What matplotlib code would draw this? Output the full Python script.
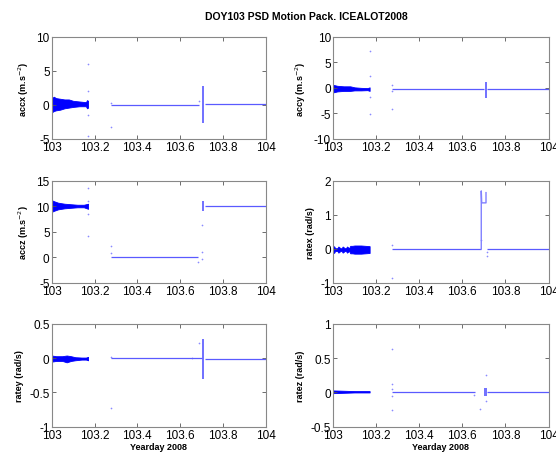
import numpy as np
import matplotlib
matplotlib.use('Agg')
import matplotlib.pyplot as plt

plt.rcParams['font.family'] = ['Liberation Sans', 'DejaVu Sans']

title = 'DOY103 PSD Motion Pack. ICEALOT2008'
xlabel = 'Yearday 2008'
xticks = [103, 103.2, 103.4, 103.6, 103.8, 104]

# ---- accx ----
accx_bt = [103.0, 103.01, 103.02, 103.04, 103.06, 103.08, 103.10, 103.13, 103.16, 103.165, 103.17]
accx_hi = [1.0, 1.2, 1.0, 0.9, 0.8, 0.8, 0.6, 0.5, 0.4, 0.7, 0.6]
accx_lo = [-1.1, -0.9, -0.8, -0.7, -0.5, -0.4, -0.3, -0.2, -0.2, -0.5, -0.4]
accx_base = [(103.275, 103.69, 0.05), (103.715, 104.0, 0.15)]
accx_spike = (103.703, 103.713, -2.6, 2.7)
accx_out_t = [103.17, 103.17, 103.17, 103.17, 103.275, 103.275, 103.69]
accx_out_y = [6.0, 2.0, -1.5, -4.5, -3.2, 0.3, 0.5]

# ---- accy ----
accy_bt = [103.0, 103.02, 103.05, 103.08, 103.10, 103.13, 103.16, 103.17]
accy_hi = [0.6, 0.4, 0.3, 0.3, 0.1, 0.0, -0.05, 0.1]
accy_lo = [-0.9, -0.7, -0.6, -0.6, -0.5, -0.5, -0.45, -0.6]
accy_base = [(103.275, 103.70, -0.2), (103.715, 104.0, -0.3)]
accy_spike = (103.704, 103.713, -1.9, 1.2)
accy_out_t = [103.17, 103.17, 103.17, 103.17, 103.275, 103.275, 103.275]
accy_out_y = [7.2, 2.3, -1.8, -5.2, 0.5, -0.7, -4.2]

# ---- accz ----
accz_bt = [103.0, 103.01, 103.03, 103.06, 103.09, 103.12, 103.15, 103.17]
accz_hi = [11.2, 11.0, 10.7, 10.5, 10.4, 10.3, 10.3, 10.5]
accz_lo = [8.9, 9.1, 9.4, 9.6, 9.7, 9.8, 9.8, 9.5]
accz_base = [(103.275, 103.685, 0.0), (103.715, 104.0, 10.0)]
accz_spike = (103.703, 103.713, 9.0, 11.1)
accz_out_t = [103.17, 103.17, 103.17, 103.17, 103.275, 103.275, 103.685, 103.70, 103.70, 103.70]
accz_out_y = [13.5, 11.0, 8.5, 4.2, 2.3, 0.8, -0.8, 6.3, 1.1, -0.4]

# ---- ratex ----
ratex_bt = [103.0, 103.005, 103.01, 103.02, 103.025, 103.035, 103.04, 103.045, 103.055, 103.06, 103.065,
            103.075, 103.08, 103.09, 103.10, 103.13, 103.15, 103.17]
ratex_hi = [0.02, 0.08, 0.02, 0.02, 0.07, 0.02, 0.02, 0.07, 0.02, 0.02, 0.07,
            0.02, 0.09, 0.09, 0.1, 0.1, 0.09, 0.08]
ratex_lo = [-0.06, -0.12, -0.06, -0.06, -0.11, -0.06, -0.06, -0.11, -0.06, -0.06, -0.11,
            -0.06, -0.13, -0.13, -0.14, -0.14, -0.13, -0.12]
ratex_base = [(103.275, 103.685, 0.0), (103.715, 104.0, 0.0)]
ratex_jump_t = [103.688, 103.688, 103.69, 103.71, 103.71]
ratex_jump_y = [0.0, 1.7, 1.35, 1.35, 1.65]
ratex_out_t = [103.275, 103.275, 103.685, 103.713, 103.713]
ratex_out_y = [-0.85, 0.1, 0.25, -0.2, -0.1]

# ---- ratey ----
ratey_bt = [103.0, 103.02, 103.05, 103.07, 103.09, 103.11, 103.14, 103.16, 103.17]
ratey_hi = [0.04, 0.03, 0.03, 0.04, 0.03, 0.015, 0.01, 0.01, 0.02]
ratey_lo = [-0.05, -0.04, -0.04, -0.06, -0.04, -0.03, -0.02, -0.02, -0.03]
ratey_base = [(103.275, 103.70, 0.0), (103.715, 104.0, -0.005)]
ratey_spike = (103.704, 103.714, -0.3, 0.28)
ratey_out_t = [103.275, 103.275, 103.69, 103.655]
ratey_out_y = [-0.72, 0.02, 0.22, 0.01]

# ---- ratez ----
ratez_bt = [103.0, 103.05, 103.10, 103.17]
ratez_hi = [0.03, 0.025, 0.02, 0.02]
ratez_lo = [-0.01, -0.005, -0.0, -0.0]
ratez_base = [(103.275, 103.66, 0.0), (103.715, 104.0, 0.01)]
ratez_spike = (103.703, 103.713, -0.05, 0.06)
ratez_out_t = [103.275, 103.275, 103.275, 103.275, 103.275, 103.655, 103.68, 103.71, 103.71]
ratez_out_y = [0.64, 0.13, -0.26, 0.05, -0.05, -0.03, -0.24, 0.26, -0.13]

panels = [
    ('accx (m.s$^{-2}$)', accx_bt, accx_hi, accx_lo, accx_base, accx_spike, accx_out_t, accx_out_y,
     (-5, 10), [-5, 0, 5, 10], ['-5', '0', '5', '10']),
    ('accy (m.s$^{-2}$)', accy_bt, accy_hi, accy_lo, accy_base, accy_spike, accy_out_t, accy_out_y,
     (-10, 10), [-10, -5, 0, 5, 10], ['-10', '-5', '0', '5', '10']),
    ('accz (m.s$^{-2}$)', accz_bt, accz_hi, accz_lo, accz_base, accz_spike, accz_out_t, accz_out_y,
     (-5, 15), [-5, 0, 5, 10, 15], ['-5', '0', '5', '10', '15']),
    ('ratex (rad/s)', ratex_bt, ratex_hi, ratex_lo, ratex_base, None, ratex_out_t, ratex_out_y,
     (-1, 2), [-1, 0, 1, 2], ['-1', '0', '1', '2']),
    ('ratey (rad/s)', ratey_bt, ratey_hi, ratey_lo, ratey_base, ratey_spike, ratey_out_t, ratey_out_y,
     (-1, 0.5), [-1, -0.5, 0, 0.5], ['-1', '-0.5', '0', '0.5']),
    ('ratez (rad/s)', ratez_bt, ratez_hi, ratez_lo, ratez_base, ratez_spike, ratez_out_t, ratez_out_y,
     (-0.5, 1), [-0.5, 0, 0.5, 1], ['-0.5', '0', '0.5', '1']),
]

W, H = 556, 456
fig = plt.figure(figsize=(W / 100, H / 100), dpi=100)
lefts = [51.7, 333.0]
widths = [214.0, 215.5]
tops = [37.7, 181.7, 325.0]
heights = [102.3, 102.3, 102.7]

blue = '#0000ff'
light = '#5a5aff'
for i, p in enumerate(panels):
    label, bt, hi, lo, base, spike, ot, oy, ylim, yt, ytl = p
    r, c = i // 2, i % 2
    ax = fig.add_axes([lefts[c] / W, 1 - (tops[r] + heights[r]) / H, widths[c] / W, heights[r] / H])
    ax.fill_between(bt, lo, hi, color=blue, linewidth=0.6, edgecolor=blue)
    for t0, t1, y in base:
        ax.plot([t0, t1], [y, y], color=light, linewidth=0.9, solid_capstyle='butt')
    if spike is not None:
        t0, t1, y0, y1 = spike
        ax.fill_between([t0, t1], [y0, y0], [y1, y1], color=blue, alpha=0.55, linewidth=0)
    if i == 3:
        ax.plot(ratex_jump_t, ratex_jump_y, color='#8080ff', linewidth=1.0)
    ax.scatter(ot, oy, s=1.5, color='#8a8aff', linewidths=0)

    ax.set_xlim(103, 104)
    ax.set_ylim(*ylim)
    ax.set_xticks(xticks)
    ax.set_xticklabels(['103', '103.2', '103.4', '103.6', '103.8', '104'])
    ax.set_yticks(yt)
    ax.set_yticklabels(ytl)
    ax.tick_params(direction='in', length=3, width=0.6, top=True, right=True,
                   labelsize=8.5, pad=1.5, color='#555555')
    for s in ax.spines.values():
        s.set_color('#888888')
        s.set_linewidth(0.8)
    ax.set_ylabel(label, fontsize=6.5, fontweight='bold', labelpad=4)
    if r == 2:
        ax.set_xlabel(xlabel, fontsize=6.5, fontweight='bold', labelpad=1)

fig.text(306 / W, 1 - 17 / H, title, ha='center', va='center', fontsize=7.5, fontweight='bold')
fig.savefig('out.png', dpi=100)
